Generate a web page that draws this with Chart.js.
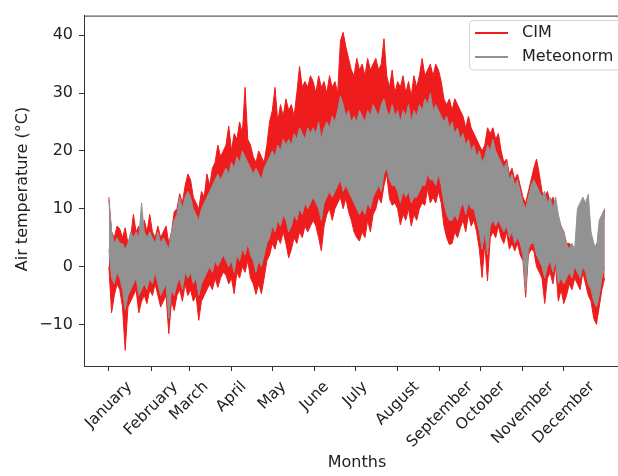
<!DOCTYPE html>
<html>
<head>
<meta charset="utf-8">
<script src="https://cdn.jsdelivr.net/npm/chart.js@4.4.0/dist/chart.umd.min.js"></script>
<style>
  html, body { margin: 0; padding: 0; background: #fff; overflow: hidden; }
  canvas { display: block; }
</style>
</head>
<body>
<canvas id="chart" width="618" height="476"></canvas>
<script>
// day of year for every reading (every 2 days)
const days = [
  0, 2, 4, 6, 8, 10, 12, 14, 16, 18,
  20, 22, 24, 26, 28, 30, 32, 34, 36, 38,
  40, 42, 44, 46, 48, 50, 52, 54, 56, 58,
  60, 62, 64, 66, 68, 70, 72, 74, 76, 78,
  80, 82, 84, 86, 88, 90, 92, 94, 96, 98,
  100, 102, 104, 106, 108, 110, 112, 114, 116, 118,
  120, 122, 124, 126, 128, 130, 132, 134, 136, 138,
  140, 142, 144, 146, 148, 150, 152, 154, 156, 158,
  160, 162, 164, 166, 168, 170, 172, 174, 176, 178,
  180, 182, 184, 186, 188, 190, 192, 194, 196, 198,
  200, 202, 204, 206, 208, 210, 212, 214, 216, 218,
  220, 222, 224, 226, 228, 230, 232, 234, 236, 238,
  240, 242, 244, 246, 248, 250, 252, 254, 256, 258,
  260, 262, 264, 266, 268, 270, 272, 274, 276, 278,
  280, 282, 284, 286, 288, 290, 292, 294, 296, 298,
  300, 302, 304, 306, 308, 310, 312, 314, 316, 318,
  320, 322, 324, 326, 328, 330, 332, 334, 336, 338,
  340, 342, 344, 346, 348, 350, 352, 354, 356, 358,
  360, 362, 364];

// CIM: upper and lower envelope of the hourly curve (°C)
const cimHigh = [
  12, 6, 5, 7, 6.5, 5, 6.7, 4, 5, 9,
  6, 7, 5, 8, 6, 9, 6, 5, 7, 5,
  6, 7, 4, 6, 9.5, 10, 12.6, 11, 14, 16,
  15, 12, 11, 10, 13, 12, 16, 14, 17, 18,
  21, 19, 20, 21, 24.3, 20, 23, 22, 25, 23,
  31, 22, 21, 19, 18, 20, 19, 18, 21, 25,
  27, 31, 25, 28, 26, 29, 27, 28, 26, 30,
  34.6, 31, 32, 31, 33, 32, 30, 33, 31, 32,
  30, 33, 31, 32, 30, 39, 40.5, 38, 36, 34,
  33, 36, 34, 35, 33, 36, 34, 35, 36, 34,
  35, 39.4, 33, 31, 34, 30, 32, 31, 33, 30,
  32, 29.5, 33, 31, 33, 36, 33, 34, 35, 33,
  35, 34, 32, 29, 28, 29, 27, 29, 28, 27,
  26, 24, 26, 24, 23, 22, 21, 20, 21, 24,
  23, 24, 22, 23, 20, 18, 18.6, 16, 17, 15,
  16, 14, 12, 11, 13, 15, 17, 18.6, 16, 13,
  12, 13, 11, 12, 10.6, 8, 7, 6, 4, 4,
  3.5, 3, 3.5, 4, 3, 4, 3, 2, 1, 4,
  3, 5, 10];
const cimLow = [
  0, -8, -5, -3, -4, -7, -14.5, -7, -6, -5,
  -4, -8, -6, -5, -6.4, -4, -5, -3, -5, -7,
  -6, -5, -11.6, -6, -7.6, -5, -4, -6, -3, -5,
  -4, -6, -5, -9.3, -6, -5, -4, -3, -4, -2,
  -3.6, -2, -1, -1.5, -3, -2, -4.7, -1, -2, 0,
  -1, 1, -2, -3, -4.8, -3, -4.7, -2, 1, 2,
  4, 3, 5, 4, 6, 4, 1.5, 3, 5, 4,
  6, 5, 7, 6, 7, 8, 7, 5, 2.7, 7,
  9, 10, 8, 10, 11, 12, 10, 11.8, 9.5, 8,
  6, 5, 4.4, 6, 5, 8, 6, 9, 10, 12,
  11, 14, 16, 11.8, 10.6, 11, 10, 7.2, 9, 8,
  10, 7, 9, 8, 10, 11, 10.6, 13.5, 11, 12,
  11, 13, 11, 7, 5, 3.8, 4, 6, 5, 6.7,
  8, 6, 9, 7, 8, 6, 3, -1.9, 4, -2.5,
  5, 6, 5, 7, 5, 4, 6, 3, 4, 2.7,
  4, 2, 1, -5.3, 2, 3, 2.7, 0, -1, -2,
  -6.4, -2, -1, -3, 0, -6, -4, -6.4, -5, -3,
  -4, -2, -3, -4, -1, -3, -5, -6, -9, -10,
  -7, -4, -2];

// Meteonorm: upper and lower envelope (°C)
const metHigh = [
  11.5, 6, 4, 5, 4, 4, 3, 4, 6, 5,
  6, 5, 11, 6, 5, 6, 5, 4, 6, 4,
  5, 4, 3, 6, 8, 9, 12, 10, 12, 13,
  12, 10, 9, 8, 10, 11, 12, 13, 14, 15,
  16, 15, 16, 17, 16, 18, 17, 19, 18, 20,
  19, 18, 17, 16, 17, 16, 15, 17, 18, 19,
  20, 19, 21, 20, 22, 21, 22, 21, 23, 22,
  24, 23, 22, 24, 23, 24, 23, 25, 22, 24,
  25, 24, 26, 25, 27, 29.5, 28, 26, 27, 25,
  26, 25, 27, 26, 25, 27, 26, 28, 27, 26,
  28, 29, 27, 26, 28, 26, 27, 25, 27, 26,
  28, 25, 27, 26, 28, 27, 29, 28, 30, 27,
  28, 27, 26, 25, 26, 24, 25, 23, 24, 22,
  23, 21, 22, 20, 21, 19, 20, 18, 19, 21,
  20, 22, 20, 19, 18, 17, 18, 15, 16, 14,
  15, 13, 11, 10, 12, 14, 15, 14, 13, 12,
  13, 11, 12, 10, 12, 9, 7, 6, 4, 3,
  4, 3, 10, 11, 12, 11, 12.5, 6, 4, 3,
  8, 9, 10];
const metLow = [
  3, -2, -3, -1, -2, -4, -7.5, -5, -4, -3,
  -2, -5, -4, -3, -4, -2, -3, -1, -3, -5,
  -4, -3, -9, -4, -5, -3, -2, -4, -1, -2,
  -1, -3, -2, -5, -3, -2, -1, 0, -1, 1,
  0, 1, 2, 1, 0, 1, -1, 2, 1, 3,
  2, 4, 2, 1, -1, 1, 0, 2, 4, 5,
  7, 6, 8, 7, 9, 8, 6, 7, 9, 8,
  10, 9, 11, 10, 11, 12, 11, 10, 8, 11,
  12, 13, 12, 13, 14, 15, 13, 14, 13, 12,
  11, 10, 9, 10, 9, 11, 10, 12, 13, 14,
  13, 16, 17, 15, 14, 14, 13, 11, 13, 12,
  13, 11, 12, 12, 13, 14, 14, 16, 15, 15,
  14, 16, 14, 11, 9, 8, 8, 9, 8, 10,
  11, 9, 11, 10, 10, 8, 6, 3, 6, 2,
  7, 8, 7, 8, 7, 6, 7, 5, 6, 4,
  5, 4, 2, -4, 3, 4, 4, 2, 1, 0,
  -2, 0, 1, -1, 1, -3, -2, -3, -2, -1,
  -2, 0, -1, -2, 0, -1, -3, -4, -6, -7,
  -5, -2, 0];

const monthStarts = [0, 31, 59, 90, 120, 151, 181, 212, 243, 273, 304, 334];
const monthNames = ['January', 'February', 'March', 'April', 'May', 'June', 'July',
  'August', 'September', 'October', 'November', 'December'];
const yTicks = [-10, 0, 10, 20, 30, 40];

const red = '#ee1c1c';
const grey = '#929292';
const ink = '#222';
const font = '"DejaVu Sans", sans-serif';

function points(values) {
  return days.map((d, i) => ({ x: d, y: values[i] }));
}

// axis labels, top spine and legend, drawn the way matplotlib places them
const axisText = {
  id: 'axisText',
  afterDraw(chart) {
    const ctx = chart.ctx;
    const area = chart.chartArea;
    const xs = chart.scales.x;
    ctx.save();

    ctx.strokeStyle = '#333';
    ctx.lineWidth = 1;
    ctx.beginPath();
    ctx.moveTo(area.left, area.top + 0.5);
    ctx.lineTo(area.right, area.top + 0.5);
    ctx.stroke();

    ctx.fillStyle = ink;
    ctx.font = '15.5px ' + font;
    ctx.textAlign = 'center';
    ctx.textBaseline = 'middle';
    monthNames.forEach((name, i) => {
      const px = xs.getPixelForValue(monthStarts[i]);
      const w = ctx.measureText(name).width;
      const ext = (w + 15) * Math.SQRT1_2;
      ctx.save();
      ctx.translate(px, area.bottom + 13 + ext / 2);
      ctx.rotate(-Math.PI / 4);
      ctx.fillText(name, 0, 0);
      ctx.restore();
    });

    ctx.font = '16px ' + font;
    ctx.fillText('Months', 357, 463);
    ctx.save();
    ctx.translate(22.5, 189);
    ctx.rotate(-Math.PI / 2);
    ctx.fillText('Air temperature (°C)', 0, 0);
    ctx.restore();

    // legend box (cut off at the right edge like the source)
    ctx.fillStyle = 'rgba(255,255,255,0.85)';
    ctx.strokeStyle = '#d4d4d4';
    ctx.beginPath();
    ctx.roundRect(469.5, 20.5, 170, 49.5, 4);
    ctx.fill();
    ctx.stroke();

    ctx.lineWidth = 2;
    ctx.strokeStyle = red;
    ctx.beginPath(); ctx.moveTo(475, 33); ctx.lineTo(508, 33); ctx.stroke();
    ctx.strokeStyle = grey;
    ctx.beginPath(); ctx.moveTo(475, 57); ctx.lineTo(508, 57); ctx.stroke();
    ctx.fillStyle = ink;
    ctx.textAlign = 'left';
    ctx.fillText('CIM', 522, 33);
    ctx.fillText('Meteonorm', 522, 57);
    ctx.restore();
  }
};

const ctx = document.getElementById('chart').getContext('2d');
new Chart(ctx, {
  type: 'line',
  data: {
    datasets: [
      { label: 'CIM', data: points(cimHigh), borderColor: red, borderWidth: 1, fill: false, order: 4 },
      { label: 'CIM low', data: points(cimLow), borderColor: red, backgroundColor: red, borderWidth: 1, fill: '-1', order: 3 },
      { label: 'Meteonorm', data: points(metHigh), borderColor: grey, borderWidth: 1, fill: false, order: 2 },
      { label: 'Meteonorm low', data: points(metLow), borderColor: grey, backgroundColor: grey, borderWidth: 1, fill: '-1', order: 1 }
    ]
  },
  options: {
    responsive: false,
    animation: false,
    elements: { point: { radius: 0 }, line: { tension: 0 } },
    layout: { padding: { top: 11, left: 0, right: 0, bottom: 0 } },
    plugins: { legend: { display: false }, tooltip: { enabled: false } },
    scales: {
      x: {
        type: 'linear',
        min: -18.25,
        max: 373.8,
        afterBuildTicks: s => { s.ticks = monthStarts.map(v => ({ value: v })); },
        afterFit: s => { s.height = 110; },
        ticks: { display: false },
        grid: { drawOnChartArea: false, drawTicks: true, tickLength: 5, color: '#333' },
        border: { display: true, color: '#333', width: 1 }
      },
      y: {
        min: -17.2,
        max: 43.4,
        afterBuildTicks: s => { s.ticks = yTicks.map(v => ({ value: v })); },
        afterFit: s => { s.width = 84; },
        ticks: {
          color: ink,
          padding: 6,
          font: { family: font, size: 16 },
          callback: v => (v < 0 ? '\u2212' + Math.abs(v) : String(v))
        },
        grid: { drawOnChartArea: false, drawTicks: true, tickLength: 5, color: '#333' },
        border: { display: true, color: '#333', width: 1 }
      }
    }
  },
  plugins: [axisText]
});
</script>
</body>
</html>
